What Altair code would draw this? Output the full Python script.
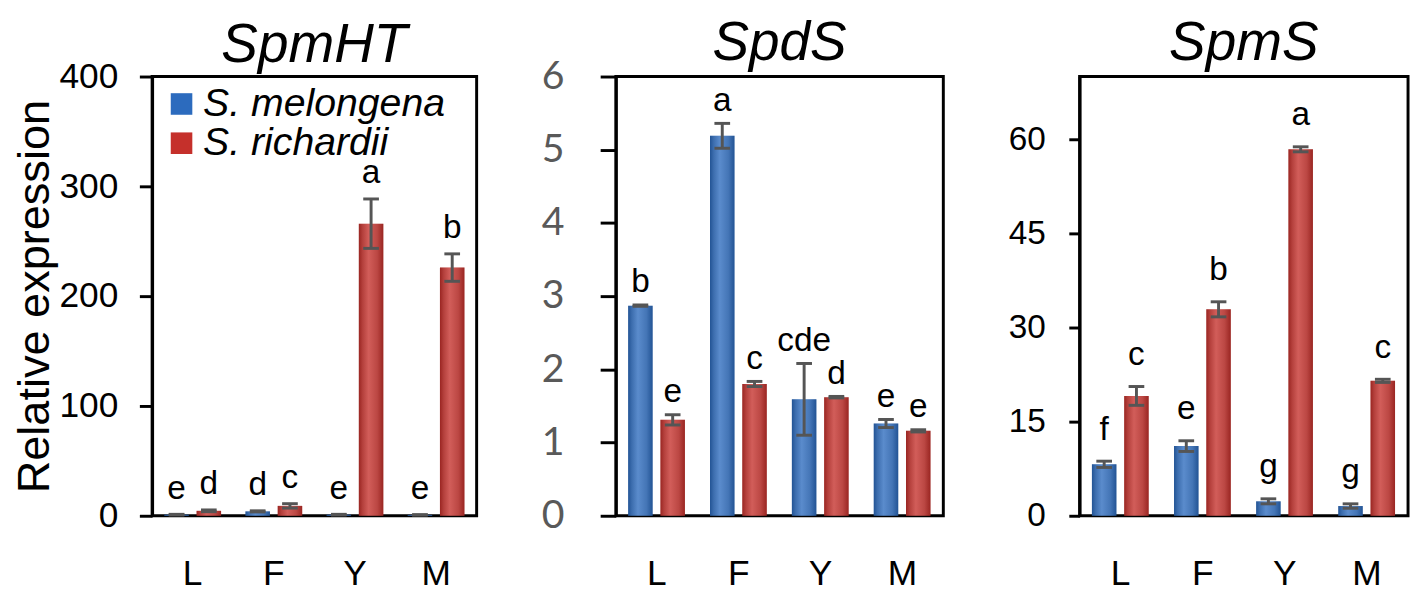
import altair as alt
import pandas as pd

FONT = "Liberation Sans"
BLUE = "#2C6BBE"
RED = "#C5302B"
GRAY = "#555555"

tissues = ["L", "F", "Y", "M"]
species = ["S. melongena", "S. richardii"]

# SpmHT
spmht_mel_mean = [1.0, 4.0, 1.0, 0.8]
spmht_mel_err = [0.3, 0.5, 0.3, 0.2]
spmht_ric_mean = [4.5, 9.0, 266.0, 226.0]
spmht_ric_err = [0.8, 2.0, 22.5, 12.5]
spmht_mel_let = ["e", "d", "e", "e"]
spmht_ric_let = ["d", "c", "a", "b"]

# SpdS
spds_mel_mean = [2.87, 5.19, 1.59, 1.26]
spds_mel_err = [0.01, 0.17, 0.49, 0.055]
spds_ric_mean = [1.31, 1.80, 1.62, 1.16]
spds_ric_err = [0.07, 0.035, 0.01, 0.015]
spds_mel_let = ["b", "a", "cde", "e"]
spds_ric_let = ["e", "c", "d", "e"]

# SpmS
spms_mel_mean = [8.2, 11.1, 2.3, 1.55]
spms_mel_err = [0.5, 0.85, 0.4, 0.35]
spms_ric_mean = [19.1, 32.9, 58.4, 21.5]
spms_ric_err = [1.5, 1.2, 0.4, 0.25]
spms_mel_let = ["f", "e", "g", "g"]
spms_ric_let = ["c", "b", "a", "c"]


def make_df(mm, me, rm, re, ml, rl):
    rows = []
    for i, t in enumerate(tissues):
        rows.append(dict(tissue=t, species=species[0], mean=mm[i], err=me[i], letter=ml[i]))
        rows.append(dict(tissue=t, species=species[1], mean=rm[i], err=re[i], letter=rl[i]))
    df = pd.DataFrame(rows)
    df["lo"] = df["mean"] - df["err"]
    df["hi"] = df["mean"] + df["err"]
    return df


GRAD = {
    "gradient": "linear", "x1": 0, "x2": 1, "y1": 0, "y2": 0,
    "stops": [
        {"offset": 0, "color": "#000000"},
        {"offset": 0.15, "color": "#777777"},
        {"offset": 0.4, "color": "#ffffff"},
        {"offset": 0.75, "color": "#999999"},
        {"offset": 1, "color": "#000000"},
    ],
}


def panel(df, title, ymax, yaxis, dy, legend, width, title_dy):
    x = alt.X("tissue:N", sort=tissues,
              scale=alt.Scale(paddingInner=0.3, paddingOuter=0.15),
              axis=alt.Axis(title=None, labelAngle=0, labelFontSize=36, labelFont=FONT,
                            labelColor="black", ticks=False, labelPadding=42, domain=False))
    xo = alt.XOffset("species:N", sort=species,
                     scale=alt.Scale(paddingInner=0.24, paddingOuter=0))
    yscale = alt.Scale(domain=[0, ymax], nice=False, zero=True)
    y = alt.Y("mean:Q", scale=yscale, axis=yaxis)
    color = alt.Color("species:N", sort=species,
                      scale=alt.Scale(domain=species, range=[BLUE, RED]), legend=legend)
    base = alt.Chart(df)
    bars = base.mark_bar().encode(x=x, xOffset=xo, y=y, color=color)
    shade = base.mark_bar(fill=GRAD, fillOpacity=0.22).encode(x=x, xOffset=xo, y=y)
    rule = base.mark_rule(color=GRAY, strokeWidth=3).encode(
        x=x, xOffset=xo, y=alt.Y("lo:Q", scale=yscale, axis=yaxis), y2="hi:Q")
    cap_hi = base.mark_tick(color=GRAY, thickness=3, size=16, opacity=1).encode(
        x=x, xOffset=xo, y=alt.Y("hi:Q", scale=yscale, axis=yaxis))
    cap_lo = base.mark_tick(color=GRAY, thickness=3, size=16, opacity=1).encode(
        x=x, xOffset=xo, y=alt.Y("lo:Q", scale=yscale, axis=yaxis))
    text = base.mark_text(fontSize=34, font=FONT, baseline="alphabetic", dy=dy,
                          color="black").encode(
        x=x, xOffset=xo, y=alt.Y("hi:Q", scale=yscale, axis=yaxis), text="letter:N")
    tp = dict(fontSize=56, font=FONT, fontStyle="italic", fontWeight="normal",
              color="black", offset=-15, anchor="middle")
    if title_dy:
        tp["dy"] = title_dy
    return alt.layer(bars, shade, rule, cap_hi, cap_lo, text).properties(
        width=width, height=448, title=alt.TitleParams(title, **tp),
    )


ax1 = alt.Axis(title="Relative expression", titleFontSize=46, titleFont=FONT,
               titleFontWeight="normal", titleColor="black", titlePadding=1,
               values=[0, 100, 200, 300, 400], labelFontSize=36, labelFont=FONT,
               labelColor="black", labelPadding=22, tickSize=13, tickWidth=3,
               tickColor="black", domainColor="black", domainWidth=3, grid=False)
ax2 = alt.Axis(title=None, values=[0, 1, 2, 3, 4, 5, 6], labelFontSize=40, labelFont="Lato",
               labelColor="#595959", labelPadding=37, tickSize=16, tickWidth=3,
               tickColor="black", domainColor="black", domainWidth=3, grid=False)
ax3 = alt.Axis(title=None, values=[0, 15, 30, 45, 60], labelFontSize=34, labelFont=FONT,
               labelColor="black", labelPadding=24, tickSize=11, tickWidth=3,
               tickColor="black", domainColor="black", domainWidth=3, grid=False)

leg = alt.Legend(title=None, orient="none", legendX=10, legendY=8, symbolType="square",
                 symbolSize=484, symbolStrokeWidth=0, symbolOpacity=1, labelFontSize=40,
                 labelFont=FONT, labelFontStyle="italic", labelColor="black", labelOffset=2,
                 rowPadding=0, labelLimit=400)

p1 = panel(make_df(spmht_mel_mean, spmht_mel_err, spmht_ric_mean, spmht_ric_err,
                   spmht_mel_let, spmht_ric_let), "SpmHT", 400, ax1, -16, leg, 331, 0)
p2 = panel(make_df(spds_mel_mean, spds_mel_err, spds_ric_mean, spds_ric_err,
                   spds_mel_let, spds_ric_let), "SpdS", 6, ax2, -13, None, 334, 0)
p3 = panel(make_df(spms_mel_mean, spms_mel_err, spms_ric_mean, spms_ric_err,
                   spms_mel_let, spms_ric_let), "SpmS", 70, ax3, -22, None, 335, -20)

chart = alt.hconcat(p1, p2, p3, spacing=62).resolve_legend(color="independent").properties(
    padding={"left": 2, "top": 0, "right": 0, "bottom": 0}
).configure_view(stroke="black", strokeWidth=3)

chart.save("out.html", embed_options={"renderer": "svg", "actions": False})
